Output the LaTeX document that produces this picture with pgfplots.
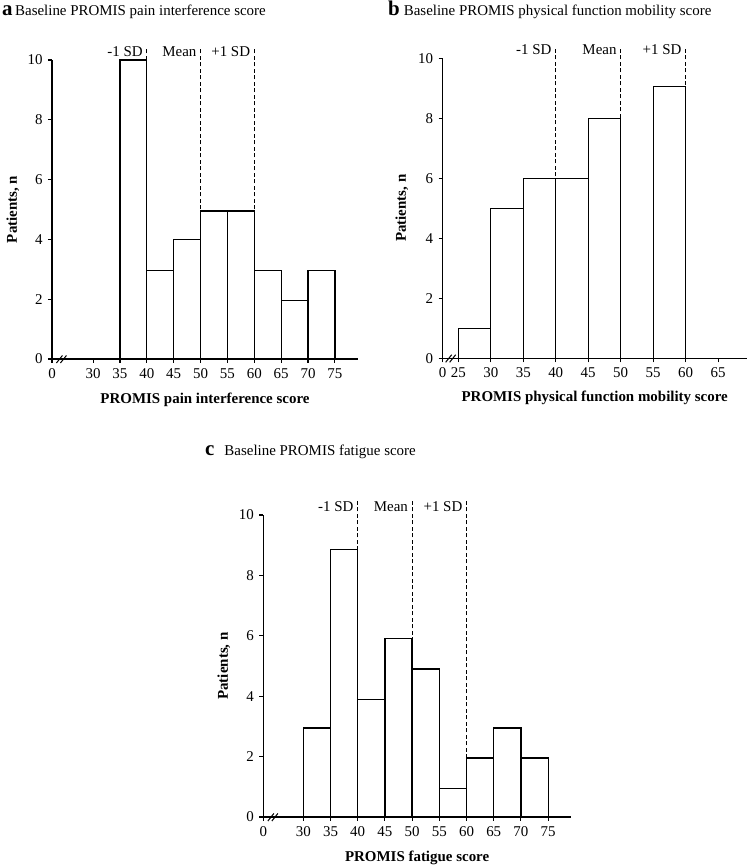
\documentclass[border=0pt]{standalone}
\usepackage{pgfplots}
\pgfplotsset{compat=1.18}
\usepackage{fontspec}
\setmainfont{Liberation Serif}

\pgfplotsset{
  hist/.style={
    scale only axis,
    axis lines=left,
    axis line style={-, line width=1.3bp},
    clip=false,
    ymin=0, ymax=10,
    ytick={0,2,4,6,8,10},
    tick align=outside,
    major tick length=4bp,
    tick style={black, line width=1.1bp},
    /pgf/number format/assume math mode=true,
    tick label style={font=\fontsize{15}{18}\selectfont},
    label style={font=\bfseries\fontsize{15}{18}\selectfont},
    ylabel={Patients, n},
    ylabel style={at={(axis description cs:-0.128,0.5)}, anchor=center},
    xlabel style={at={(axis description cs:0.5,-0.136)}, anchor=center},
    xticklabel style={yshift=-2bp},
    yticklabel style={xshift=-2bp},
  },
  bars/.style={ybar, bar width=5, bar shift=0pt, fill=white, draw=black, line width=1.3bp},
  sd/.style={dash pattern=on 4bp off 2.5bp, line width=1.2bp, black},
}
\tikzset{
  sdlab/.style={anchor=east, font=\fontsize{15}{18}\selectfont, inner sep=0pt, xshift=-4bp},
}

\newcommand{\brk}[1]{%
  \draw[line width=1bp] (axis cs:#1,0) ++(-5.5bp,-4bp) -- ++(6bp,7.5bp);
  \draw[line width=1bp] (axis cs:#1,0) ++(-1.5bp,-4bp) -- ++(6bp,7.5bp);
}

\begin{document}
\begin{tikzpicture}
\useasboundingbox (0,0) rectangle (749bp,868bp);

% titles
\node[anchor=base west, inner sep=0pt] at (2bp,852bp)
  {{\fontsize{21}{24}\selectfont\bfseries a}\hspace{2.5bp}{\fontsize{15}{18}\selectfont Baseline PROMIS pain interference score}};
\node[anchor=base west, inner sep=0pt] at (388bp,852bp)
  {{\fontsize{21}{24}\selectfont\bfseries b}\hspace{4bp}{\fontsize{15}{18}\selectfont Baseline PROMIS physical function mobility score}};
\node[anchor=base west, inner sep=0pt] at (205bp,412bp)
  {{\fontsize{21}{24}\selectfont\bfseries c}\hspace{10bp}{\fontsize{15}{18}\selectfont Baseline PROMIS fatigue score}};

% ---------- panel a ----------
\begin{axis}[hist, at={(52bp,509bp)}, anchor=south west,
  width=306bp, height=299bp,
  xmin=22.35, xmax=79.3,
  xtick={22.35,30,35,40,45,50,55,60,65,70,75},
  xticklabels={0,30,35,40,45,50,55,60,65,70,75},
  xlabel={PROMIS pain interference score}]
\addplot[sd] coordinates {(40,0) (40,10.43)};
\addplot[sd] coordinates {(50,0) (50,10.43)};
\addplot[sd] coordinates {(60,0) (60,10.43)};
\addplot[bars] coordinates {
  (37.5,10) (42.5,2.95) (47.5,4) (52.5,4.95) (57.5,4.95)
  (62.5,2.95) (67.5,1.95) (72.5,2.95)};
\node[sdlab] at (axis cs:40,10.28) {-1 SD};
\node[sdlab] at (axis cs:50,10.28) {Mean};
\node[sdlab] at (axis cs:60,10.28) {+1 SD};
\brk{24.2}
\end{axis}

% ---------- panel b ----------
\begin{axis}[hist, at={(442.7bp,509.7bp)}, anchor=south west,
  width=304bp, height=300bp,
  xmin=22.6, xmax=69.4,
  xtick={22.6,25,30,35,40,45,50,55,60,65},
  xticklabels={0,25,30,35,40,45,50,55,60,65},
  ylabel style={at={(axis description cs:-0.134,0.5)}},
  xlabel style={at={(axis description cs:0.5,-0.132)}},
  xlabel={PROMIS physical function mobility score}]
\addplot[sd] coordinates {(40,0) (40,10.39)};
\addplot[sd] coordinates {(50,0) (50,10.39)};
\addplot[sd] coordinates {(60,0) (60,10.39)};
\addplot[bars] coordinates {
  (27.5,1) (32.5,5) (37.5,6) (42.5,6) (47.5,8) (57.5,9.05)};
\node[sdlab] at (axis cs:40,10.28) {-1 SD};
\node[sdlab] at (axis cs:50,10.28) {Mean};
\node[sdlab] at (axis cs:60,10.28) {+1 SD};
\brk{23.9}
\end{axis}

% ---------- panel c ----------
\begin{axis}[hist, at={(263.3bp,51bp)}, anchor=south west,
  width=307.7bp, height=302bp,
  xmin=22.65, xmax=79.2,
  xtick={22.65,30,35,40,45,50,55,60,65,70,75},
  xticklabels={0,30,35,40,45,50,55,60,65,70,75},
  xlabel={PROMIS fatigue score}]
\addplot[sd] coordinates {(40,0) (40,10.5)};
\addplot[sd] coordinates {(50,0) (50,10.5)};
\addplot[sd] coordinates {(60,0) (60,10.5)};
\addplot[bars] coordinates {
  (32.5,2.95) (37.5,8.85) (42.5,3.9) (47.5,5.9) (52.5,4.9)
  (57.5,0.95) (62.5,1.95) (67.5,2.95) (72.5,1.95)};
\node[sdlab] at (axis cs:40,10.27) {-1 SD};
\node[sdlab] at (axis cs:50,10.27) {Mean};
\node[sdlab] at (axis cs:60,10.27) {+1 SD};
\brk{24.5}
\end{axis}
\end{tikzpicture}
\end{document}
